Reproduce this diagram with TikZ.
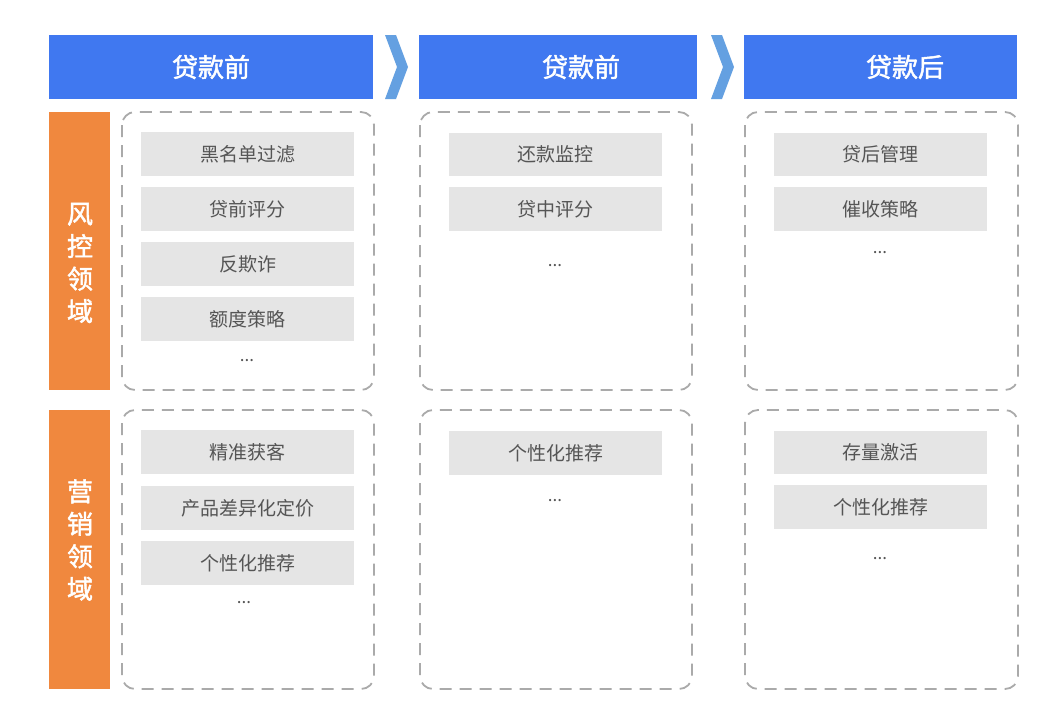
\documentclass[tikz,border=0pt]{standalone}
\usepackage{fontspec}
\newfontfamily\cjk{Noto Sans CJK SC}
\newfontfamily\cjkm{Noto Sans CJK SC}[UprightFeatures={FakeBold=1.8}]
\definecolor{hdr}{RGB}{64,120,240}
\definecolor{chev}{RGB}{100,160,225}
\definecolor{org}{RGB}{240,136,62}
\definecolor{itm}{RGB}{229,229,229}
\definecolor{itmtxt}{RGB}{85,85,85}
\definecolor{dsh}{RGB}{170,170,170}
\tikzset{
  hdrtxt/.style={text=white, font=\cjkm\fontsize{26}{30}\selectfont},
  sidebox/.style={fill=org, draw=none},
  sidetxt/.style={text=white, font=\cjkm\fontsize{26}{32.5}\selectfont, align=center},
  areabox/.style={draw=dsh, line width=1.8pt, dash pattern=on 12pt off 8pt, rounded corners=13pt},
  itemtxt/.style={text=itmtxt, font=\cjk\fontsize{19}{22}\selectfont},
  dots/.style={text=itmtxt, font=\cjk\fontsize{17}{20}\selectfont},
  chevron/.style={fill=chev, draw=none}
}
\newcommand\itembox[5]{\fill[itm] (#1,#2) rectangle (#3,#4); \node[itemtxt] at ({(#1+#3)/2},{(#2+#4)/2}) {#5};}
\begin{document}
\begin{tikzpicture}[x=1pt,y=-1pt]
\useasboundingbox (0,0) rectangle (1054,720);
\fill[white] (0,0) rectangle (1054,720);
% headers
\fill[hdr] (49,35) rectangle (373,99); \node[hdrtxt] (h1) at (211,67) {贷款前};
\fill[hdr] (419,35) rectangle (697,99); \node[hdrtxt] (h2) at (581,67) {贷款前};
\fill[hdr] (744,35) rectangle (1017,99); \node[hdrtxt] (h3) at (905,67) {贷款后};
% chevrons
\fill[chevron] (385,35) -- (396,35) -- (408,67) -- (396,99) -- (385,99) -- (397,67) -- cycle;
\fill[chevron] (711,35) -- (722,35) -- (734,67) -- (722,99) -- (711,99) -- (723,67) -- cycle;
% side boxes
\fill[sidebox] (49,112) rectangle (110,390);
\node[sidetxt] (s1) at (80,263) {风\\控\\领\\域};
\fill[sidebox] (49,410) rectangle (110,689);
\node[sidetxt] (s2) at (80,540) {营\\销\\领\\域};
% dashed areas
\draw[areabox] (122,112) rectangle (374,390);
\draw[areabox] (420,112) rectangle (692,390);
\draw[areabox] (745,112) rectangle (1018,390);
\draw[areabox] (122,410) rectangle (374,689);
\draw[areabox] (420,410) rectangle (692,689);
\draw[areabox] (745,410) rectangle (1018,689);
% top row items
\itembox{141}{132}{354}{176}{黑名单过滤}
\itembox{141}{187}{354}{231}{贷前评分}
\itembox{141}{242}{354}{286}{反欺诈}
\itembox{141}{297}{354}{341}{额度策略}
\node[dots] (d1) at (247,361) {...};
\itembox{449}{133}{662}{176}{还款监控}
\itembox{449}{187}{662}{231}{贷中评分}
\node[dots] (d2) at (555,266) {...};
\itembox{774}{133}{987}{176}{贷后管理}
\itembox{774}{187}{987}{231}{催收策略}
\node[dots] (d3) at (880,253) {...};
% bottom row items
\itembox{141}{430}{354}{474}{精准获客}
\itembox{141}{486}{354}{530}{产品差异化定价}
\itembox{141}{541}{354}{585}{个性化推荐}
\node[dots] (d4) at (244,603) {...};
\itembox{449}{431}{662}{475}{个性化推荐}
\node[dots] (d5) at (555,501) {...};
\itembox{774}{431}{987}{474}{存量激活}
\itembox{774}{485}{987}{529}{个性化推荐}
\node[dots] (d6) at (880,559) {...};
\end{tikzpicture}
\end{document}
